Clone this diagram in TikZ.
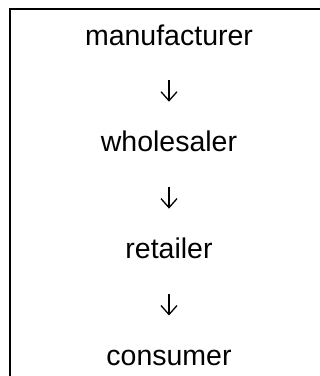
\documentclass[tikz,border=0pt]{standalone}
\usepackage{fontspec}
\setmainfont{Liberation Sans}
\usetikzlibrary{arrows.meta, positioning}

\begin{document}
\begin{tikzpicture}[
x=1pt, y=1pt,
node distance=80.5pt,
stage/.style={font=\fontsize{28.5}{30}\selectfont,
text height=20pt,
text depth=6pt,
inner sep=0pt},
arrow/.style={-{Straight Barb[length=9pt, width=16pt]}, line width=1.3pt,
shorten <=29pt, shorten >=30pt}
]

\useasboundingbox (0,0) rectangle (320,-376);
\draw[line width=2pt] (10.5,-376) -- (10.5,-8.7) -- (320,-8.7);

\node[stage, anchor=base] (manu) at (169,-45) {manufacturer};
\node[stage, below=of manu] (whole) {wholesaler};
\node[stage, below=of whole] (retail) {retailer};
\node[stage, below=of retail] (cons) {consumer};

\draw[arrow] (manu) -- (whole);
\draw[arrow] (whole) -- (retail);
\draw[arrow] (retail) -- (cons);

\end{tikzpicture}
\end{document}
